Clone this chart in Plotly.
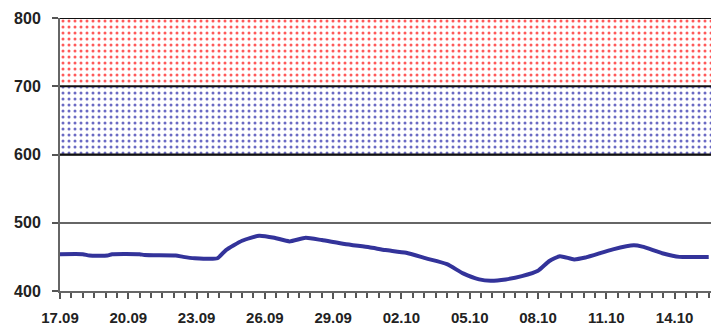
import plotly.graph_objects as go

# ---- data ----
dates = [
    "2012-09-17 00:00", "2012-09-18 00:00", "2012-09-18 07:00", "2012-09-19 02:00",
    "2012-09-19 07:00", "2012-09-20 12:00", "2012-09-20 17:00", "2012-09-22 02:00",
    "2012-09-22 10:00", "2012-09-22 22:00", "2012-09-23 22:00", "2012-09-24 07:00",
    "2012-09-25 00:00", "2012-09-25 18:00", "2012-09-26 10:00", "2012-09-27 02:00",
    "2012-09-27 19:00", "2012-09-28 12:00", "2012-09-29 12:00", "2012-09-30 14:00",
    "2012-10-01 07:00", "2012-10-02 05:00", "2012-10-03 02:00", "2012-10-04 00:00",
    "2012-10-04 17:00", "2012-10-05 10:00", "2012-10-05 22:00", "2012-10-06 14:00",
    "2012-10-07 07:00", "2012-10-08 00:00", "2012-10-08 12:00", "2012-10-08 23:00",
    "2012-10-09 14:00", "2012-10-10 02:00", "2012-10-11 07:00", "2012-10-12 05:00",
    "2012-10-12 14:00", "2012-10-13 12:00", "2012-10-14 05:00", "2012-10-15 12:00",
]
values = [
    454, 454, 452, 452,
    454, 454, 452.6, 452,
    450, 448, 448, 460,
    473.6, 481, 478, 472.7,
    478, 474.6, 468.8, 464,
    460, 456, 447.8, 439.4,
    425.8, 417, 415, 417,
    421.8, 429.6, 444, 451,
    446.3, 449, 461, 467,
    465, 455, 450, 450,
]
x_range = ["2012-09-17 00:00", "2012-10-15 14:24"]
y_range = [400, 800]
y_ticks = [400, 500, 600, 700, 800]
band_lows = [600, 700]
band_highs = [700, 800]
band_colors = ["#6a6ac4", "#ff5a5a"]

fig = go.Figure()

for lo, hi, col in zip(band_lows, band_highs, band_colors):
    fig.add_trace(go.Scatter(
        x=[x_range[0], x_range[1], x_range[1], x_range[0], x_range[0]],
        y=[lo, lo, hi, hi, lo],
        fill="toself", mode="none", hoverinfo="skip",
        fillcolor="rgba(0,0,0,0)",
        fillpattern=dict(shape=".", fgcolor=col, bgcolor="white",
                         size=6, solidity=0.2, fillmode="replace"),
        showlegend=False,
    ))

fig.add_trace(go.Scatter(
    x=dates, y=values, mode="lines",
    line=dict(color="#33339a", width=4, shape="spline", smoothing=0.5),
    showlegend=False,
))

for lvl in sorted(set(band_lows + band_highs)):
    fig.add_hline(y=lvl, line=dict(color="#111111", width=2), layer="above")

fig.update_layout(
    width=711, height=325,
    margin=dict(l=60, r=0, t=18, b=34),
    plot_bgcolor="white", paper_bgcolor="white",
    font=dict(family="Liberation Sans", size=15, color="#222222"),
)
fig.update_xaxes(
    type="date", range=x_range,
    tickformat="%d.%m", dtick=3 * 86400000, tick0="2012-09-17",
    ticks="outside", ticklen=6, tickwidth=1.5, tickcolor="#555555",
    minor=dict(dtick=43200000, ticks="outside", ticklen=5, tickcolor="#555555", tickwidth=1.5),
    showline=True, linecolor="#666666", linewidth=2,
    showgrid=False, zeroline=False,
    tickfont=dict(family="Liberation Sans", size=15, color="#222222", weight="bold"),
    ticklabelstandoff=6,
)
fig.update_yaxes(
    range=y_range, tickvals=y_ticks,
    ticks="outside", ticklen=6, tickwidth=1.5, tickcolor="#555555",
    showline=True, linecolor="#666666", linewidth=2,
    showgrid=True, gridcolor="#666666", gridwidth=2, zeroline=False,
    tickfont=dict(family="Liberation Sans", size=16, color="#222222", weight="bold"),
    ticklabelstandoff=8,
)

fig.write_html("out.html", config={"displayModeBar": False},
               post_script="document.body.style.margin='0';document.body.style.overflow='hidden';")
